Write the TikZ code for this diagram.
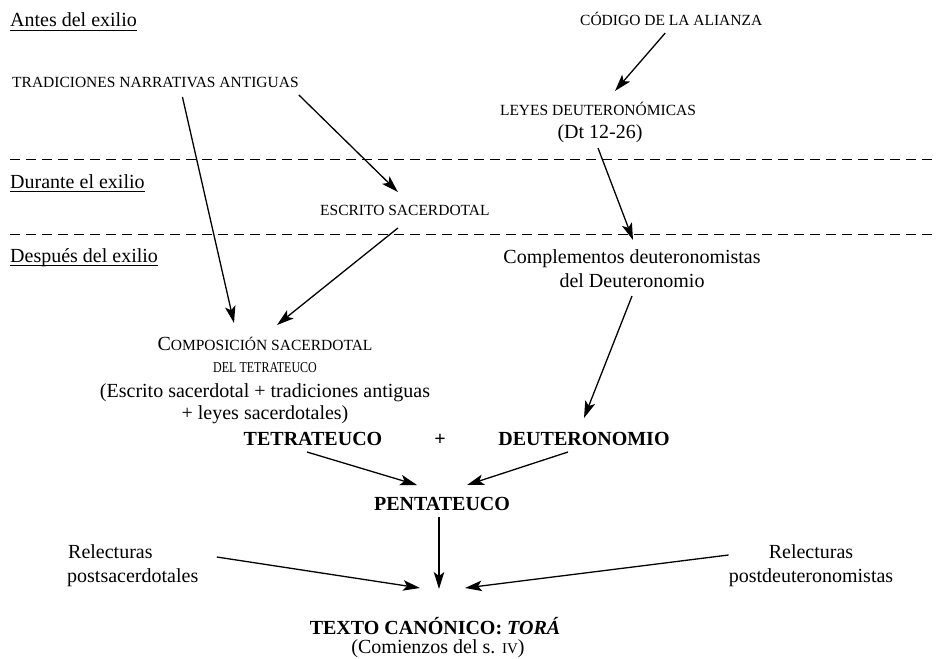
\documentclass[tikz,border=0pt]{standalone}
\usepackage{fontspec}
\usepackage{graphicx}
\setmainfont{Liberation Serif}
\usetikzlibrary{arrows.meta,calc}
\tikzset{
  lab/.style={inner sep=0pt, anchor=base, font=\fontsize{20}{24}\selectfont},
  labw/.style={lab, anchor=base west},
  sc/.style={inner sep=0pt, anchor=base, font=\fontsize{15.5}{18}\selectfont},
  scw/.style={sc, anchor=base west},
  bflab/.style={lab, font=\fontsize{20}{24}\selectfont\bfseries},
  arr/.style={-{Stealth[length=17pt,width=10.5pt,inset=4pt]}, line width=1.3pt},
  sepline/.style={dash pattern=on 10pt off 6pt, line width=1pt},
  uline/.style={line width=0.9pt}
}
\begin{document}
\begin{tikzpicture}[x=1pt,y=-1pt]
\useasboundingbox (0,0) rectangle (936,658);

% period labels
\node[labw] (antes) at (10,27) {Antes del exilio};
\node[labw] (durante) at (10,188) {Durante el exilio};
\node[labw] (despues) at (10,262) {Después del exilio};
\foreach \n in {antes,durante,despues}
  \draw[uline] ($(\n.base west)+(0,3)$) -- ($(\n.base east)+(0,3)$);

% separators
\draw[sepline] (10,159) -- (936,159);
\draw[sepline] (10,234) -- (936,234);

% nodes
\node[scw] (trad) at (12,88) {TRADICIONES NARRATIVAS ANTIGUAS};
\node[scw] (codigo) at (580,26) {CÓDIGO DE LA ALIANZA};
\node[sc] (leyes) at (598,115) {LEYES DEUTERONÓMICAS};
\node[lab] (dt) at (600,138) {(Dt 12-26)};
\node[scw] (escrito) at (320,215) {ESCRITO SACERDOTAL};
\node[lab] (comp1) at (632,263) {Complementos deuteronomistas};
\node[lab] (comp2) at (632,287) {del Deuteronomio};
\node[sc] (compo1) at (265,350) {{\fontsize{20}{24}\selectfont C}OMPOSICIÓN SACERDOTAL};
\node[sc, font=\fontsize{15}{18}\selectfont] (compo2) at (265,372) {\scalebox{0.8}[1]{DEL TETRATEUCO}};
\node[lab] (compo3) at (265,397) {(Escrito sacerdotal + tradiciones antiguas};
\node[lab] (compo4) at (265,419) {+ leyes sacerdotales)};
\node[bflab] (tetra) at (313,445) {TETRATEUCO};
\node[bflab] (plus) at (440,445) {+};
\node[bflab] (deut) at (584,445) {DEUTERONOMIO};
\node[bflab] (penta) at (442,510) {PENTATEUCO};
\node[labw] (relL1) at (68,558) {Relecturas};
\node[labw] (relL2) at (67,582) {postsacerdotales};
\node[lab] (relR1) at (811,558) {Relecturas};
\node[lab] (relR2) at (811,582) {postdeuteronomistas};
\node[bflab] (texto) at (435,634) {TEXTO CANÓNICO: \textit{TORÁ}};
\node[lab] (comienzos) at (438,653) {(Comienzos del s. {\fontsize{15}{18}\selectfont IV})};

% connectors
\draw[arr] ($(trad.base east)+(0,7)$) -- ($(escrito.base)+(-7,-23)$);
\draw[arr] ($(trad.base)+(27,9)$) -- ($(compo1.base)+(-31,-27)$);
\draw[arr] ($(escrito.base)+(-7,13)$) -- ($(compo1.base)+(12,-25)$);
\draw[arr] ($(codigo.base)+(-6,7)$) -- ($(leyes.base)+(17,-24)$);
\draw[arr] ($(dt.base)+(-2,10)$) -- ($(comp1.base)+(1,-23)$);
\draw[arr] ($(comp2.base)+(0,9)$) -- ($(deut.base)+(0,-27)$);
\draw[arr] ($(tetra.base)+(-6,7)$) -- ($(penta.base)+(-25,-25)$);
\draw[arr] ($(deut.base)+(-16,7)$) -- ($(penta.base)+(25,-25)$);
\draw[arr] ($(penta.base)+(-3,7)$) -- ($(texto.base)+(4,-45)$);
\draw[arr] ($(relL1.base east)+(64,-1)$) -- ($(texto.base)+(-15,-46)$);
\draw[arr] ($(relR1.base west)+(-40,-3)$) -- ($(texto.base)+(30,-46)$);
\end{tikzpicture}
\end{document}
